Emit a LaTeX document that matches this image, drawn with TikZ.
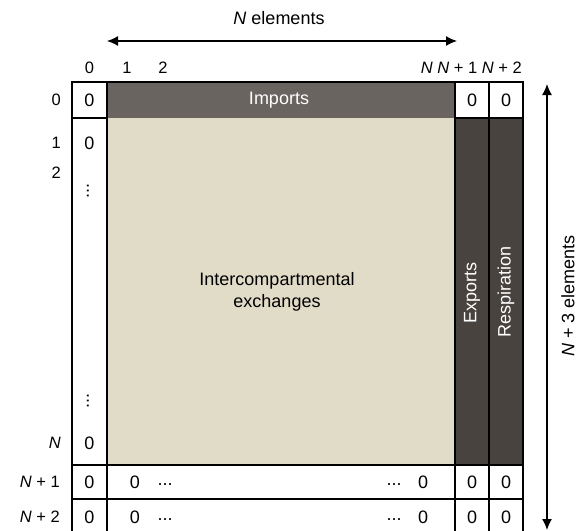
\documentclass[tikz,border=0pt]{standalone}
\usepackage{fontspec}
\setmainfont{Liberation Sans}
\usetikzlibrary{arrows.meta}
\definecolor{impcol}{HTML}{6A6460}
\definecolor{beigecol}{HTML}{E1DCC8}
\definecolor{darkcol}{HTML}{48433F}
\begin{document}
\begin{tikzpicture}[x=1pt,y=-1pt,
  lbl/.style={font=\fontsize{18}{22}\selectfont, inner sep=0pt},
  hdr/.style={font=\fontsize{16.5}{20}\selectfont, inner sep=0pt},
  wlbl/.style={lbl, text=white},
  gridline/.style={line width=2pt, black},
  dimarrow/.style={line width=1.3pt, {Latex[length=11pt,width=10pt]}-{Latex[length=11pt,width=10pt]}}]
\useasboundingbox (0,0) rectangle (585,530);
\clip (0,0) rectangle (585,530);
% fills
\fill[impcol] (107,82) rectangle (455,118);
\fill[beigecol] (107,118) rectangle (455,465);
\fill[darkcol] (455,118) rectangle (523,465);
% grid
\draw[gridline] (72,82) rectangle (523,540);
\draw[gridline] (107,82) -- (107,540);
\draw[gridline] (455,82) -- (455,540);
\draw[gridline] (489,82) -- (489,540);
\draw[gridline] (72,118) -- (107,118);
\draw[gridline] (455,118) -- (523,118);
\draw[gridline] (72,465) -- (523,465);
\draw[gridline] (72,499) -- (523,499);
% arrows
\coordinate (hl) at (107,41);
\coordinate (hr) at (457,41);
\draw[dimarrow] (hl) -- (hr);
\node[lbl] (nel) at (279,18) {\textit{N} elements};
\coordinate (vt) at (547,84);
\coordinate (vb) at (547,530);
\draw[dimarrow] (vt) -- (vb);
\node[lbl, rotate=90] (n3el) at (568,296) {\textit{N} + 3 elements};
% column headers
\node[hdr] (c0) at (89.5,68) {0};
\node[hdr] (c1) at (127,68) {1};
\node[hdr] (c2) at (163,68) {2};
\node[hdr, anchor=east] (cN) at (522,68) {\textit{N} \textit{N} + 1 \textit{N} + 2};
% row headers
\node[hdr, anchor=east] (r0) at (61,100) {0};
\node[hdr, anchor=east] (r1) at (61,143) {1};
\node[hdr, anchor=east] (r2) at (61,173) {2};
\node[hdr, anchor=east] (rN) at (61,443) {\textit{N}};
\node[hdr, anchor=east] (rN1) at (60,482) {\textit{N} + 1};
\node[hdr, anchor=east] (rN2) at (60,517) {\textit{N} + 2};
% column 0 contents
\node[lbl] (z00) at (89.5,100) {0};
\node[lbl] (z10) at (89.5,143) {0};
\node[lbl, rotate=90] (vd1) at (88,191) {...};
\node[lbl, rotate=90] (vd2) at (88,401) {...};
\node[lbl] (zN0) at (89.5,443) {0};
\node[lbl] (zN10) at (89.5,482) {0};
\node[lbl] (zN20) at (89.5,517) {0};
% row 0 right
\node[wlbl] (imports) at (279,100) {Imports};
\node[lbl] (z0a) at (472,100) {0};
\node[lbl] (z0b) at (506,100) {0};
% center
\node[lbl, align=center, font=\fontsize{18}{22.5}\selectfont] (ice) at (277,292) {Intercompartmental\\exchanges};
\node[wlbl, rotate=90] (exports) at (472,293) {Exports};
\node[wlbl, rotate=90] (resp) at (506,292) {Respiration};
% bottom rows
\node[lbl] (b1a) at (135,482) {0};
\node[lbl] (b1b) at (165,485) {...};
\node[lbl] (b1c) at (394,485) {...};
\node[lbl] (b1d) at (423,482) {0};
\node[lbl] (b1e) at (472,482) {0};
\node[lbl] (b1f) at (506,482) {0};
\node[lbl] (b2a) at (135,517) {0};
\node[lbl] (b2b) at (165,520) {...};
\node[lbl] (b2c) at (394,520) {...};
\node[lbl] (b2d) at (423,517) {0};
\node[lbl] (b2e) at (472,517) {0};
\node[lbl] (b2f) at (506,517) {0};
\end{tikzpicture}
\end{document}
